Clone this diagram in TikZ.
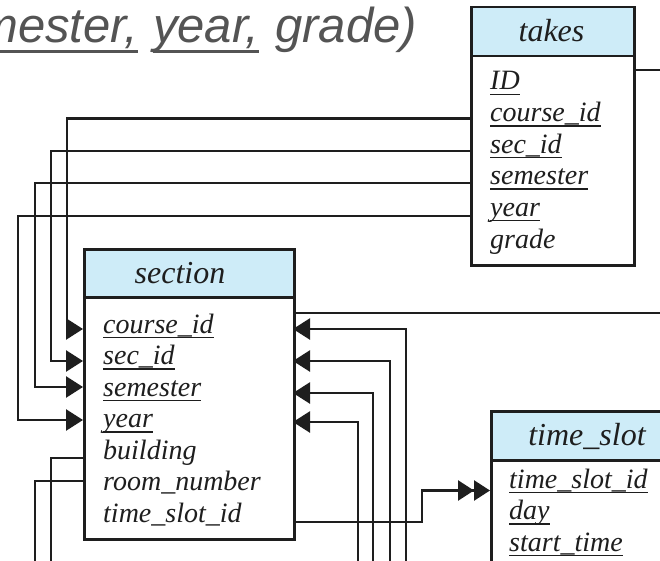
\documentclass[tikz,border=0pt]{standalone}
\usepackage{fontspec}
\setmainfont{Liberation Serif}
\newfontfamily\captionfont{Liberation Sans}
\usetikzlibrary{arrows.meta}

\definecolor{hdr}{RGB}{206,236,248}
\definecolor{ink}{RGB}{30,30,30}
\definecolor{capgray}{RGB}{84,84,84}

% underline at a fixed depth below the baseline (crosses descenders)
\newcommand\keyul[1]{\setbox0=\hbox{#1}\rlap{\vrule height -0.13em depth 0.18em width \wd0}\box0}
\newcommand\capul[1]{\setbox0=\hbox{#1}\rlap{\vrule height -0.15em depth 0.21em width \wd0}\box0}

\begin{document}
\begin{tikzpicture}[x=1pt,y=-1pt,
  tablebox/.style={draw=ink, line width=2.5pt, fill=white, anchor=north west, inner sep=0pt},
  headbox/.style={draw=ink, line width=2.5pt, fill=hdr, anchor=north west, inner sep=0pt, minimum height=49pt},
  headtext/.style={anchor=base, inner sep=0pt, font=\fontsize{32}{36}\selectfont\itshape, text=ink},
  row/.style={anchor=base west, inner sep=0pt, font=\fontsize{28}{32}\selectfont\itshape, text=ink},
  link/.style={draw=ink, line width=2.5pt},
  fk/.style={link, -{Triangle[length=17pt,width=21pt]}},
  fkk/.style={link, -{Triangle[length=16pt,width=20pt,sep=0pt]Triangle[length=16pt,width=20pt]}}]

\useasboundingbox (0,0) rectangle (660,561);
\clip (0,0) rectangle (660,561);

% relation schema caption
\node (caption) [anchor=base west, inner sep=0pt, text=capgray,
  font=\captionfont\itshape\fontsize{49}{54}\selectfont] at (-74.6,43)
  {\capul{semester,}\hspace{15pt}\capul{year,}\hspace{16pt}grade)};

% ---------------- takes ----------------
\node (takes) [tablebox, minimum width=163pt, minimum height=258pt] at (470,6) {};
\node (takes-h) [headbox, minimum width=163pt] at (470,6) {};
\node (takes-t) [headtext] at (551.5,42) {takes};
\node (tk1) [row] at (490,90)    {\keyul{ID}};
\node (tk2) [row] at (490,121.6) {\keyul{course\_id}};
\node (tk3) [row] at (490,153.2) {\keyul{sec\_id}};
\node (tk4) [row] at (490,184.8) {\keyul{semester}};
\node (tk5) [row] at (490,216.4) {\keyul{year}};
\node (tk6) [row] at (490,248)   {grade};

% ---------------- section ----------------
\node (section) [tablebox, minimum width=210pt, minimum height=290pt] at (83,248) {};
\node (section-h) [headbox, minimum width=210pt, minimum height=48pt] at (83,248) {};
\node (section-t) [headtext] at (180,283) {section};
\node (se1) [row] at (103,333)   {\keyul{course\_id}};
\node (se2) [row] at (103,364.5) {\keyul{sec\_id}};
\node (se3) [row] at (103,396)   {\keyul{semester}};
\node (se4) [row] at (103,427.5) {\keyul{year}};
\node (se5) [row] at (103,459)   {building};
\node (se6) [row] at (103,490.5) {room\_number};
\node (se7) [row] at (103,522)   {time\_slot\_id};

% ---------------- time_slot ----------------
\node (timeslot) [tablebox, minimum width=194pt, minimum height=200pt] at (490,410) {};
\node (timeslot-h) [headbox, minimum width=194pt] at (490,410) {};
\node (timeslot-t) [headtext] at (587,445) {time\_slot};
\node (ts1) [row] at (509,488)   {\keyul{time\_slot\_id}};
\node (ts2) [row] at (509,519.5) {\keyul{day}};
\node (ts3) [row] at (509,551)   {\keyul{start\_time}};

% attachment points on the table borders
\coordinate (tk-cid) at (470,118.5);
\coordinate (tk-sid) at (470,151);
\coordinate (tk-sem) at (470,183);
\coordinate (tk-yr)  at (470,216);
\coordinate (tk-out) at (633,70);
\coordinate (tk-off) at (675,70);

\coordinate (se-cid-l) at (83,329);
\coordinate (se-sid-l) at (83,361);
\coordinate (se-sem-l) at (83,387);
\coordinate (se-yr-l)  at (83,420);
\coordinate (se-bld)   at (83,458);
\coordinate (se-room)  at (83,481);

\coordinate (se-out)   at (293,313);
\coordinate (se-off)   at (675,313);
\coordinate (se-cid-r) at (293,329);
\coordinate (se-sid-r) at (293,361);
\coordinate (se-sem-r) at (293,393);
\coordinate (se-yr-r)  at (293,422);
\coordinate (se-ts)    at (293,522);
\coordinate (ts-in)    at (490,490.5);

% loose ends running past the lower edge
\coordinate (bld-foot)  at (51,575);
\coordinate (room-foot) at (35,575);
\coordinate (cid-foot)  at (406,575);
\coordinate (sid-foot)  at (390,575);
\coordinate (sem-foot)  at (373,575);
\coordinate (yr-foot)   at (358,575);

% takes -> section (foreign key on section's primary key)
\draw[fk] (tk-cid) -| (67,329) -- (se-cid-l);
\draw[fk] (tk-sid) -| (51,361) -- (se-sid-l);
\draw[fk] (tk-sem) -| (35,387) -- (se-sem-l);
\draw[fk] (tk-yr)  -| (18,420) -- (se-yr-l);
\draw[link] (tk-out) -- (tk-off);

% section -> classroom
\draw[link] (se-bld)  -| (bld-foot);
\draw[link] (se-room) -| (room-foot);

% references to section coming from below
\draw[fk] (cid-foot) |- (se-cid-r);
\draw[fk] (sid-foot) |- (se-sid-r);
\draw[fk] (sem-foot) |- (se-sem-r);
\draw[fk] (yr-foot)  |- (se-yr-r);
\draw[link] (se-out) -- (se-off);

% section -> time_slot
\draw[fkk] (se-ts) -| (422,490.5) -- (ts-in);

\end{tikzpicture}
\end{document}
